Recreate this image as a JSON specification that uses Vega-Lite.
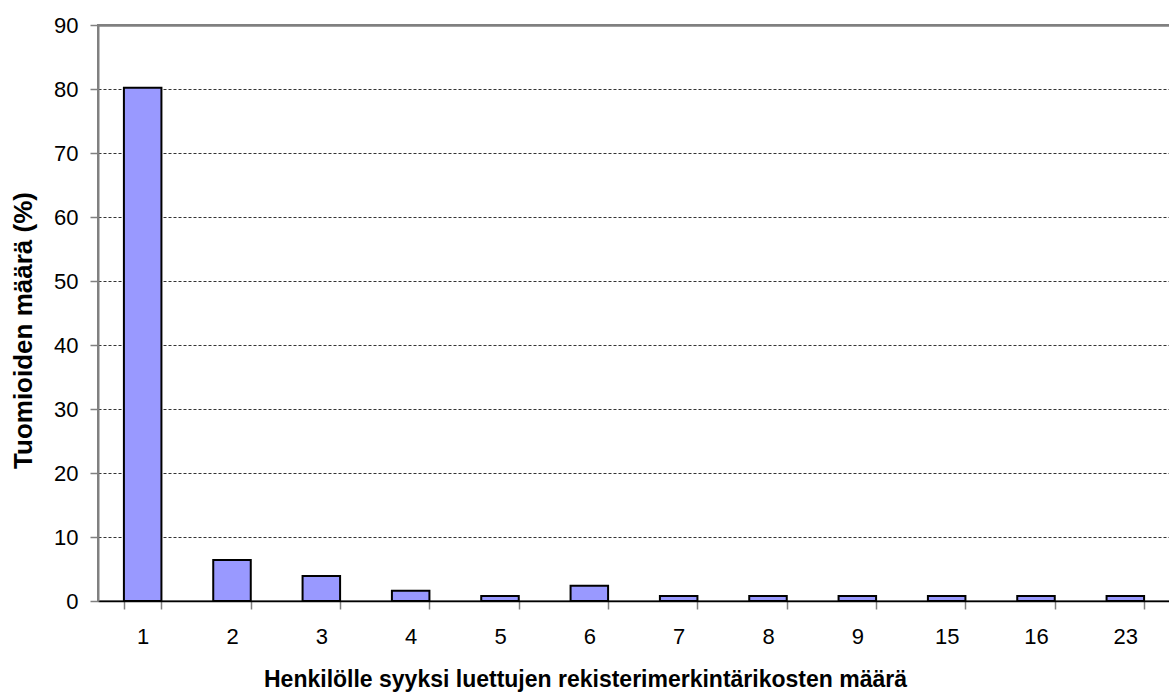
{
  "$schema": "https://vega.github.io/schema/vega-lite/v6.json",
  "autosize": "none",
  "width": 1072,
  "height": 576,
  "padding": {"left": 98, "top": 25, "right": 0, "bottom": 91},
  "background": "white",
  "config": {
    "font": "Liberation Sans",
    "view": {"stroke": "#808080", "strokeWidth": 2}
  },
  "data": {
    "values": [
      {"n": "1", "p": 80.2},
      {"n": "2", "p": 6.4},
      {"n": "3", "p": 3.9},
      {"n": "4", "p": 1.6},
      {"n": "5", "p": 0.8},
      {"n": "6", "p": 2.4},
      {"n": "7", "p": 0.8},
      {"n": "8", "p": 0.8},
      {"n": "9", "p": 0.8},
      {"n": "15", "p": 0.8},
      {"n": "16", "p": 0.8},
      {"n": "23", "p": 0.8}
    ]
  },
  "mark": {"type": "bar", "fill": "#9999FF", "stroke": "#000000", "strokeWidth": 2},
  "encoding": {
    "x": {
      "field": "n",
      "type": "ordinal",
      "sort": null,
      "scale": {"paddingInner": 0.58, "paddingOuter": 0.29},
      "axis": {
        "title": "Henkilölle syyksi luettujen rekisterimerkintärikosten määrä",
        "titleFont": "Liberation Sans",
        "titleFontSize": 23,
        "titleFontWeight": "bold",
        "titleColor": "#000000",
        "titlePadding": 21,
        "titleX": 487,
        "labelFont": "Liberation Sans",
        "labelFontSize": 22,
        "labelColor": "#000000",
        "labelAngle": 0,
        "labelPadding": 17,
        "tickBand": "extent",
        "tickSize": 8,
        "tickColor": "#808080",
        "tickWidth": 1.5,
        "domainColor": "#000000",
        "domainWidth": 1.5,
        "grid": false
      }
    },
    "y": {
      "field": "p",
      "type": "quantitative",
      "scale": {"domain": [0, 90], "nice": false},
      "axis": {
        "title": "Tuomioiden määrä (%)",
        "titleFont": "Liberation Sans",
        "titleFontSize": 26,
        "titleFontWeight": "bold",
        "titleColor": "#000000",
        "titlePadding": 17,
        "titleY": 305,
        "values": [0, 10, 20, 30, 40, 50, 60, 70, 80, 90],
        "labelFont": "Liberation Sans",
        "labelFontSize": 22,
        "labelColor": "#000000",
        "labelPadding": 12,
        "tickSize": 8,
        "tickColor": "#808080",
        "tickWidth": 1.5,
        "domainColor": "#808080",
        "domainWidth": 2,
        "grid": true,
        "gridColor": {"condition": {"test": "datum.value === 90", "value": "#808080"}, "value": "#000000"},
        "gridDash": {"condition": {"test": "datum.value === 90", "value": []}, "value": [3, 2]},
        "gridWidth": {"condition": {"test": "datum.value === 90", "value": 2.5}, "value": 1},
        "gridOpacity": {"condition": {"test": "datum.value === 90", "value": 1}, "value": 0.8}
      }
    }
  }
}
